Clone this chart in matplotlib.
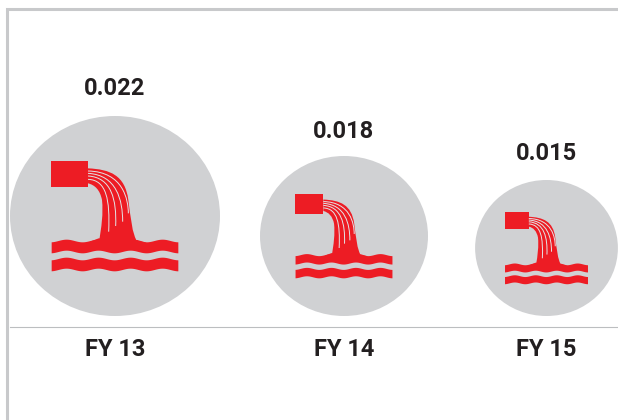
#!/usr/bin/python3
import numpy as np
import matplotlib
matplotlib.use('Agg')
import matplotlib.pyplot as plt
from matplotlib.patches import Ellipse, PathPatch, Rectangle, Polygon
from matplotlib.path import Path

plt.rcParams['font.family'] = ['Roboto', 'DejaVu Sans']

years = ['FY 13', 'FY 14', 'FY 15']
values = [0.022, 0.018, 0.015]

# layout in pixels
centers = [115, 344, 546.5]
radii_y = [100, 80, 68]
icon_scale = [1.0, 0.765, 0.655]
label_y = [88.5, 131.5, 153.5]
base_y = 316
GREY = '#d0d1d3'
RED = '#ed1c24'
INK = '#231f20'
C4 = [Path.MOVETO, Path.CURVE4, Path.CURVE4, Path.CURVE4]

# icon shapes are given relative to the big circle's centre, 3x zoomed
def wave(ax, tr, x0, x1, top, bot):
  xs = np.linspace(x0, x1, 120)
  ph = np.cos((xs - 200) * 2 * np.pi / 96.0) * 4.0
  up = [tr(x, top - p) for x, p in zip(xs, ph)]
  lo = [tr(x, bot - p) for x, p in zip(xs[::-1], ph[::-1])]
  ax.add_patch(Polygon(up + lo, closed=True, fc=RED, ec='none'))

def draw_icon(ax, cx, cy, s):
  def tr(x, y):
    return (cx + (x - 345) / 3.0 * s, cy + (y - 348) / 3.0 * s)
  p0 = tr(153, 183)
  ax.add_patch(Rectangle(p0, 111 / 3.0 * s, 77 / 3.0 * s, fc=RED, ec='none'))
  verts = [(264,205), (330,208), (375,225), (385,300),
           (392,350), (395,400), (414,430),
           (296,430),
           (305,380), (310,340), (306,300),
           (300,270), (285,255), (264,250),
           (264,205)]
  codes = [Path.MOVETO, Path.CURVE4, Path.CURVE4, Path.CURVE4,
           Path.CURVE4, Path.CURVE4, Path.CURVE4,
           Path.LINETO,
           Path.CURVE4, Path.CURVE4, Path.CURVE4,
           Path.CURVE4, Path.CURVE4, Path.CURVE4,
           Path.CLOSEPOLY]
  ax.add_patch(PathPatch(Path([tr(*v) for v in verts], codes), fc=RED, ec='none'))
  wave(ax, tr, 155, 535, 423, 456)
  wave(ax, tr, 155, 535, 477, 510)
  # bulge where the stream meets the water
  ax.add_patch(Polygon([tr(296,415), tr(412,420), tr(440,428), tr(345,455), tr(270,425)],
                       closed=True, fc=RED, ec='none'))
  for v in ([(264,213), (370,215), (385,300), (385,340)],
            [(264,220), (350,225), (368,300), (368,365)],
            [(264,228), (335,232), (350,300), (347,378)],
            [(264,238), (320,240), (330,300), (326,395)]):
    ax.add_patch(PathPatch(Path([tr(*q) for q in v], C4), fc='none', ec='#e4e4e6', lw=0.7))

fig = plt.figure(figsize=(6.18, 4.2), dpi=100)
ax = fig.add_axes([0, 0, 1, 1])
ax.set_xlim(0, 618)
ax.set_ylim(420, 0)
ax.axis('off')

# frame and baseline
ax.plot([7, 7, 618], [420, 9, 9], color='#c8c9cb', lw=2.2, solid_joinstyle='miter')
ax.plot([10, 618], [326.5, 326.5], color='#bcbec0', lw=0.8)

for yr, val, cx, ry, sc, ly in zip(years, values, centers, radii_y, icon_scale, label_y):
  cy = base_y - ry
  ax.add_patch(Ellipse((cx, cy), 2.1 * ry, 2 * ry, fc=GREY, ec='none'))
  draw_icon(ax, cx, cy, sc)
  ax.text(cx, ly, '%.3f' % val, ha='center', va='center',
          fontsize=17, fontweight='bold', color=INK)
  ax.text(cx, 349, yr, ha='center', va='center',
          fontsize=17, fontweight='bold', color=INK)

fig.savefig('out.png', dpi=100)
